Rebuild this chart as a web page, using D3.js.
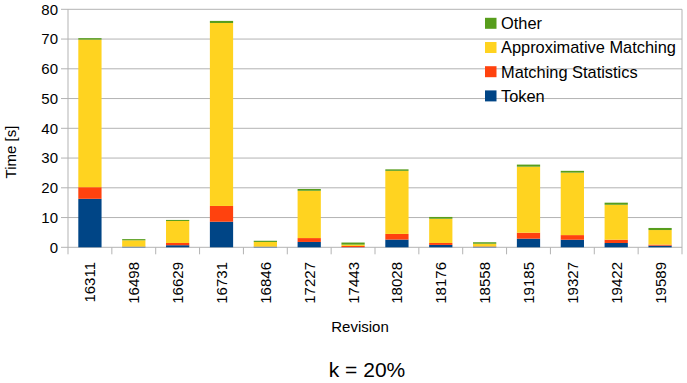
<!DOCTYPE html>
<html>
<head>
<meta charset="utf-8">
<script src="https://cdn.jsdelivr.net/npm/d3@7"></script>
<style>
  body { margin: 0; background: #fff; }
  svg { display: block; font-family: "Liberation Sans", Arial, sans-serif; }
</style>
</head>
<body>
<svg id="chart" width="687" height="383"></svg>
<script>
// --- Data ---
const revisions = ["16311", "16498", "16629", "16731", "16846", "17227", "17443",
                   "18028", "18176", "18558", "19185", "19327", "19422", "19589"];
const token          = [16.3, 0.2, 0.7, 8.6, 0.2, 1.8, 0.05, 2.6, 0.8, 0.2, 2.9, 2.55, 1.45, 0.55];
const matchingStats  = [3.9, 0.05, 0.75, 5.3, 0.05, 1.3, 0.4, 1.9, 0.65, 0.1, 2.0, 1.55, 1.1, 0.35];
const approxMatching = [49.6, 2.1, 7.4, 61.5, 1.55, 15.9, 0.45, 21.2, 8.15, 0.9, 22.2, 21.0, 11.75, 4.9];
const other          = [0.5, 0.4, 0.35, 0.7, 0.4, 0.6, 0.7, 0.5, 0.6, 0.5, 0.7, 0.6, 0.7, 0.7];
const seriesNames = ["Token", "Matching Statistics", "Approximative Matching", "Other"];
const yTicks = [0, 10, 20, 30, 40, 50, 60, 70, 80];

(function () {
    const colors = {
        "Token": "#004586",
        "Matching Statistics": "#ff420e",
        "Approximative Matching": "#ffd320",
        "Other": "#579d1c"
    };

    // table for d3.stack
    const rows = revisions.map((r, i) => ({
        rev: r,
        "Token": token[i],
        "Matching Statistics": matchingStats[i],
        "Approximative Matching": approxMatching[i],
        "Other": other[i]
    }));

    const svg = d3.select("#chart");
    const plotLeft = 68, plotRight = 682, plotTop = 9.3, plotBottom = 247.3;

    const x = d3.scaleBand().domain(revisions).range([plotLeft, plotRight]).padding(0);
    const y = d3.scaleLinear().domain([0, 80]).range([plotBottom, plotTop]);
    const barW = x.bandwidth() * 0.53;

    // gridlines
    svg.append("g")
        .selectAll("line")
        .data(yTicks)
        .join("line")
        .attr("x1", plotLeft - 7).attr("x2", plotRight)
        .attr("y1", d => y(d)).attr("y2", d => y(d))
        .attr("stroke", "#b3b3b3").attr("stroke-width", 1);

    // left axis line + right border
    svg.append("line").attr("x1", plotLeft).attr("x2", plotLeft).attr("y1", plotTop).attr("y2", plotBottom + 7)
        .attr("stroke", "#b3b3b3");
    svg.append("line").attr("x1", plotRight).attr("x2", plotRight).attr("y1", plotTop).attr("y2", plotBottom + 7)
        .attr("stroke", "#b3b3b3");

    // category boundary ticks below the axis
    svg.append("g")
        .selectAll("line")
        .data(revisions.slice(1))
        .join("line")
        .attr("x1", d => x(d)).attr("x2", d => x(d))
        .attr("y1", plotBottom).attr("y2", plotBottom + 7)
        .attr("stroke", "#b3b3b3");

    // stacked bars
    const stacked = d3.stack().keys(seriesNames)(rows);
    svg.append("g")
        .selectAll("g")
        .data(stacked)
        .join("g")
        .attr("fill", d => colors[d.key])
        .selectAll("rect")
        .data(d => d)
        .join("rect")
        .attr("x", d => x(d.data.rev) + (x.bandwidth() - barW) / 2)
        .attr("width", barW)
        .attr("y", d => y(d[1]))
        .attr("height", d => y(d[0]) - y(d[1]));

    // y tick labels
    svg.append("g")
        .selectAll("text")
        .data(yTicks)
        .join("text")
        .attr("x", 58)
        .attr("y", d => y(d))
        .attr("dy", "0.36em")
        .attr("text-anchor", "end")
        .attr("font-size", 15)
        .attr("fill", "#000")
        .text(d => d);

    // x tick labels (rotated)
    svg.append("g")
        .selectAll("text")
        .data(revisions)
        .join("text")
        .attr("transform", d => `translate(${x(d) + x.bandwidth() / 2 + 5.5},262) rotate(-90)`)
        .attr("text-anchor", "end")
        .attr("font-size", 15)
        .attr("fill", "#000")
        .text(d => d);

    // axis titles
    svg.append("text")
        .attr("transform", "translate(16,152) rotate(-90)")
        .attr("text-anchor", "middle")
        .attr("font-size", 15)
        .text("Time [s]");

    svg.append("text")
        .attr("x", 360).attr("y", 332)
        .attr("text-anchor", "middle")
        .attr("font-size", 15)
        .text("Revision");

    svg.append("text")
        .attr("x", 367).attr("y", 377)
        .attr("text-anchor", "middle")
        .attr("font-size", 21)
        .text("k = 20%");

    // legend (top series first)
    const legend = svg.append("g")
        .selectAll("g")
        .data(seriesNames.slice().reverse())
        .join("g")
        .attr("transform", (d, i) => `translate(485,${23.3 + i * 24.2})`);
    legend.append("rect")
        .attr("x", 0).attr("y", -5.5)
        .attr("width", 11.5).attr("height", 11)
        .attr("fill", d => colors[d]);
    legend.append("text")
        .attr("x", 16).attr("dy", "0.36em")
        .attr("font-size", 16.4)
        .attr("fill", "#000")
        .text(d => d);
})();
</script>
</body>
</html>
